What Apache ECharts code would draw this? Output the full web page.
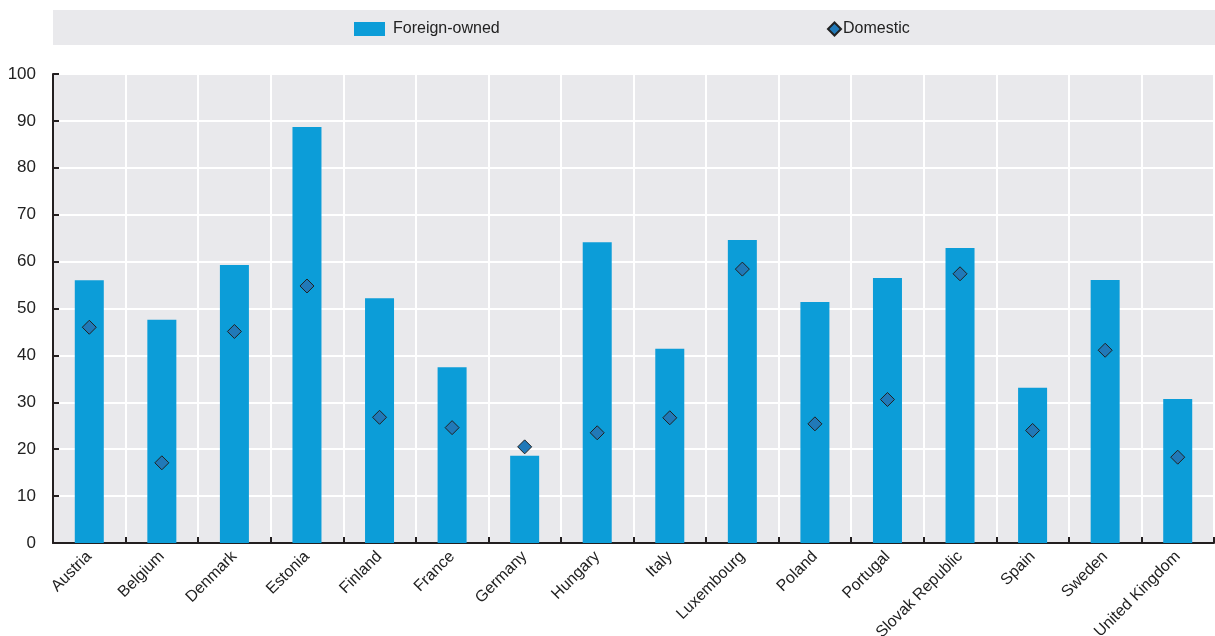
<!DOCTYPE html>
<html>
<head>
<meta charset="utf-8">
<script src="https://cdn.jsdelivr.net/npm/echarts@6/dist/echarts.min.js"></script>
<style>
html,body{margin:0;padding:0;background:#fff;}
#chart{width:1215px;height:636px;}
</style>
</head>
<body>
<div id="chart"></div>
<script>
const categories = ['Austria','Belgium','Denmark','Estonia','Finland','France','Germany','Hungary','Italy','Luxembourg','Poland','Portugal','Slovak Republic','Spain','Sweden','United Kingdom'];
const foreignOwned = [56.0, 47.6, 59.3, 88.7, 52.2, 37.5, 18.6, 64.1, 41.4, 64.6, 51.4, 56.5, 62.9, 33.1, 56.1, 30.7];
const domestic = [46.0, 17.1, 45.1, 54.8, 26.8, 24.6, 20.5, 23.5, 26.7, 58.4, 25.4, 30.6, 57.4, 24.0, 41.1, 18.3];
const yTicks = [0, 10, 20, 30, 40, 50, 60, 70, 80, 90, 100];

const FONT = "'Liberation Sans Narrow', 'Arial Narrow', 'Liberation Sans', Arial, sans-serif";
const chart = echarts.init(document.getElementById('chart'), null, {renderer: 'canvas'});
chart.setOption({
  animation: false,
  textStyle: {fontFamily: FONT},
  graphic: [{
    type: 'rect', left: 53, top: 10, z: -1,
    shape: {width: 1162, height: 35},
    style: {fill: '#e9e9ec'}
  }],
  legend: [{
    data: [{name: 'Foreign-owned', icon: 'rect'}],
    left: 354, top: 21, padding: 0, itemWidth: 31, itemHeight: 14,
    textStyle: {fontFamily: FONT, fontSize: 16, color: '#222', padding: [0, 0, 0, 3]}
  }, {
    data: [{name: 'Domestic', icon: 'diamond'}],
    left: 827, top: 21, padding: 0, itemWidth: 13, itemHeight: 13,
    textStyle: {fontFamily: FONT, fontSize: 16, color: '#222', padding: [0, 0, 0, -3]}
  }],
  grid: {
    left: 53, right: 1, top: 74, bottom: 93,
    containLabel: false, outerBoundsMode: 'none',
    show: true, backgroundColor: '#e9e9ec', borderWidth: 0
  },
  xAxis: {
    type: 'category',
    data: categories,
    boundaryGap: true,
    axisLine: {lineStyle: {color: '#231f20', width: 2}},
    axisTick: {show: true, inside: true, length: 6, lineStyle: {color: '#231f20', width: 2}},
    splitLine: {show: true, lineStyle: {color: '#ffffff', width: 2}},
    axisLabel: {rotate: 45, fontFamily: FONT, fontSize: 16, color: '#222', margin: 11, interval: 0}
  },
  yAxis: {
    type: 'value',
    min: yTicks[0], max: yTicks[yTicks.length - 1], interval: 10,
    axisLine: {show: true, lineStyle: {color: '#231f20', width: 2}},
    axisTick: {show: true, inside: true, length: 6, lineStyle: {color: '#231f20', width: 2}},
    splitLine: {show: true, lineStyle: {color: '#ffffff', width: 2}},
    axisLabel: {fontFamily: FONT, fontSize: 17, color: '#222', margin: 17}
  },
  series: [{
    name: 'Foreign-owned',
    type: 'bar',
    data: foreignOwned,
    barWidth: 29,
    itemStyle: {color: '#0c9dd8'}
  }, {
    name: 'Domestic',
    type: 'scatter',
    data: domestic,
    symbol: 'diamond',
    symbolSize: 14,
    itemStyle: {color: '#2179b8', borderColor: '#222', borderWidth: 1, opacity: 1},
    z: 5
  }]
});
</script>
</body>
</html>
